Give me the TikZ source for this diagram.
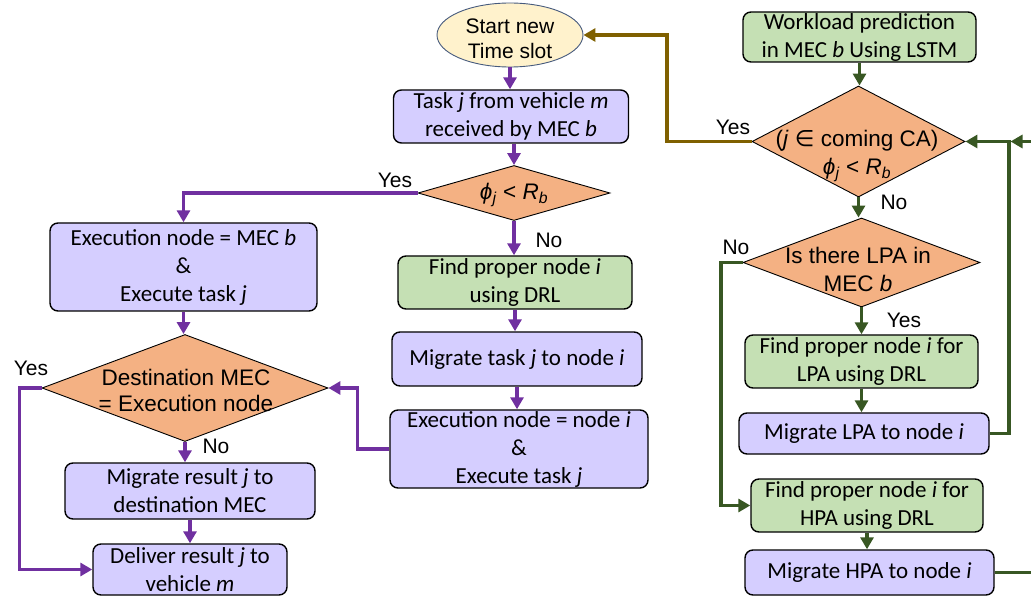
\documentclass[tikz,border=0pt]{standalone}
\usepackage{fontspec}
\setmainfont{Carlito}
\newfontfamily\arial{Liberation Sans}
\newfontfamily\dejavu{DejaVu Sans}
\usetikzlibrary{shapes.geometric,arrows.meta}

\definecolor{boxpurple}{RGB}{213,206,255}
\definecolor{boxgreen}{RGB}{197,224,180}
\definecolor{diaorange}{RGB}{244,177,131}
\definecolor{startfill}{RGB}{255,242,204}
\definecolor{startline}{RGB}{70,90,125}
\definecolor{flowpurple}{RGB}{112,48,160}
\definecolor{flowgreen}{RGB}{56,87,35}
\definecolor{flowbrown}{RGB}{127,96,0}

\tikzset{
  box/.style={draw=black, line width=1.4pt, rounded corners=8pt, align=center,
    inner sep=0pt, font=\fontsize{23}{28}\selectfont},
  pbox/.style={box, fill=boxpurple},
  gbox/.style={box, fill=boxgreen},
  dia/.style={diamond, draw=black, line width=0.9pt, fill=diaorange, inner sep=0pt},
  dtxt/.style={align=center, inner sep=0pt, font=\arial\fontsize{22.5}{27}\selectfont},
  lbl/.style={inner sep=0pt, font=\arial\fontsize{21}{24}\selectfont},
  tip/.style={-{Triangle[length=12pt,width=13pt]}},
  pflow/.style={draw=flowpurple, line width=3.3pt, tip},
  gflow/.style={draw=flowgreen, line width=3.3pt, tip},
  bflow/.style={draw=flowbrown, line width=3.3pt, tip},
}

\newcommand{\phij}{\textit{ϕ}\textsubscript{\textit{j}}}
\newcommand{\Rb}{\textit{R}\textsubscript{\textit{b}}}

\begin{document}
\begin{tikzpicture}[x=1pt, y=-1pt]
\useasboundingbox (0,0) rectangle (1031,601);
\clip (0,0) rectangle (1031,601);

% ---------- task offloading flow ----------
\node[ellipse, draw=startline, line width=0.9pt, fill=startfill,
      minimum width=146pt, minimum height=64pt, inner sep=0pt] (start) at (510,35) {};
\node[dtxt, font=\arial\fontsize{21}{25}\selectfont] (starttxt) at (510,39) {Start new\\Time slot};

\node[pbox, minimum width=235pt, minimum height=53pt] (task) at (511,116.5)
  {Task \textit{j} from vehicle \textit{m}\\received by MEC \textit{b}};

\node[dia, minimum width=192pt, minimum height=55pt] (d1) at (514,193) {};
\node[dtxt] (d1txt) at (514,195) {\phij{} < \Rb};

\node[pbox, minimum width=267pt, minimum height=88pt] (execm) at (183.5,267)
  {Execution node = MEC \textit{b}\\\&\\Execute task \textit{j}};

\node[dia, minimum width=286pt, minimum height=107pt] (d2) at (185,388) {};
\node[dtxt, font=\arial\fontsize{22.5}{26}\selectfont] (d2txt) at (186,390) {Destination MEC\\= Execution node};

\node[pbox, minimum width=250pt, minimum height=56pt] (migres) at (190,491)
  {Migrate result \textit{j} to\\destination MEC};
\node[pbox, minimum width=194pt, minimum height=51pt] (deliver) at (190,569.5)
  {Deliver result \textit{j} to\\vehicle \textit{m}};

\node[gbox, minimum width=234pt, minimum height=53pt] (finddrl) at (515,282.5)
  {Find proper node \textit{i}\\using DRL};
\node[pbox, minimum width=250pt, minimum height=54pt] (migtask) at (517,359)
  {Migrate task \textit{j} to node \textit{i}};
\node[pbox, minimum width=258pt, minimum height=78pt] (execi) at (519,449)
  {Execution node = node \textit{i}\\\&\\Execute task \textit{j}};

\draw[pflow] (start.south) -- (start.south |- task.north);
\draw[pflow] (d1.north |- task.south) -- (d1.north);
\draw[pflow] (d1.west) -| (execm.north);
\draw[pflow] (d1.south) -- (d1.south |- finddrl.north);
\draw[pflow] (finddrl.south) -- (finddrl.south |- migtask.north);
\draw[pflow] (migtask.south) -- (migtask.south |- execi.north);
\draw[pflow] (execi.west) -- ++(-32,0) |- (d2.east);
\draw[pflow] (execm.south) -- (execm.south |- d2.north);
\draw[pflow] (d2.south) -- (d2.south |- migres.north);
\draw[pflow] (migres.south) -- (migres.south |- deliver.north);
\draw[pflow] (d2.west) -- ++(-22,0) |- (deliver.west);

\node[lbl] (y1) at (395,180) {Yes};
\node[lbl] (n1) at (549,240) {No};
\node[lbl] (y2) at (31,368) {Yes};
\node[lbl] (n2) at (216,446) {No};

% ---------- workload balancing flow ----------
\node[gbox, minimum width=233pt, minimum height=50pt] (workload) at (859.5,37)
  {Workload prediction\\in MEC \textit{b} Using LSTM};

\node[dia, minimum width=213pt, minimum height=111pt] (d3) at (858.5,141.5) {};
\node[dtxt, font=\arial\fontsize{22.5}{28}\selectfont] (d3txt) at (857,156)
  {(\textit{j} {\dejavu ∈} coming CA)\\\phij{} < \Rb};

\node[dia, minimum width=237pt, minimum height=89pt] (d4) at (861.5,262.5) {};
\node[dtxt, font=\arial\fontsize{22.5}{28}\selectfont] (d4txt) at (858,269)
  {Is there LPA in\\MEC \textit{b}};

\node[gbox, minimum width=233pt, minimum height=53pt] (findlpa) at (861.5,361.5)
  {Find proper node \textit{i} for\\LPA using DRL};
\node[pbox, minimum width=250pt, minimum height=41pt] (miglpa) at (864,433.5)
  {Migrate LPA to node \textit{i}};
\node[gbox, minimum width=232pt, minimum height=53pt] (findhpa) at (867,505.5)
  {Find proper node \textit{i} for\\HPA using DRL};
\node[pbox, minimum width=249pt, minimum height=45pt] (mighpa) at (869.5,572.5)
  {Migrate HPA to node \textit{i}};

\coordinate (rj) at (1009,141.5);
\coordinate (hpaback) at (1010.5,141.5);

\draw[bflow] (d3.west) -- (667,141.5) |- (start.east);
\draw[gflow] (workload.south) -- (workload.south |- d3.north);
\draw[gflow] (d3.south) -- (d3.south |- d4.north);
\draw[gflow] (d4.south) -- (d4.south |- findlpa.north);
\draw[gflow] (findlpa.south) -- (findlpa.south |- miglpa.north);
\draw[gflow] (miglpa.east) -| (rj) -- (d3.east);
\draw[gflow] (d4.west) -- (721,262.5) |- (findhpa.west);
\draw[gflow] (findhpa.south) -- (findhpa.south |- mighpa.north);
\draw[gflow] (mighpa.east) -- (1040,572.5) -- (1040,141.5) -- (hpaback);

\node[lbl] (y3) at (733,127) {Yes};
\node[lbl] (n3) at (894,202) {No};
\node[lbl] (n4) at (736,247) {No};
\node[lbl] (y4) at (904,320) {Yes};
\end{tikzpicture}
\end{document}
